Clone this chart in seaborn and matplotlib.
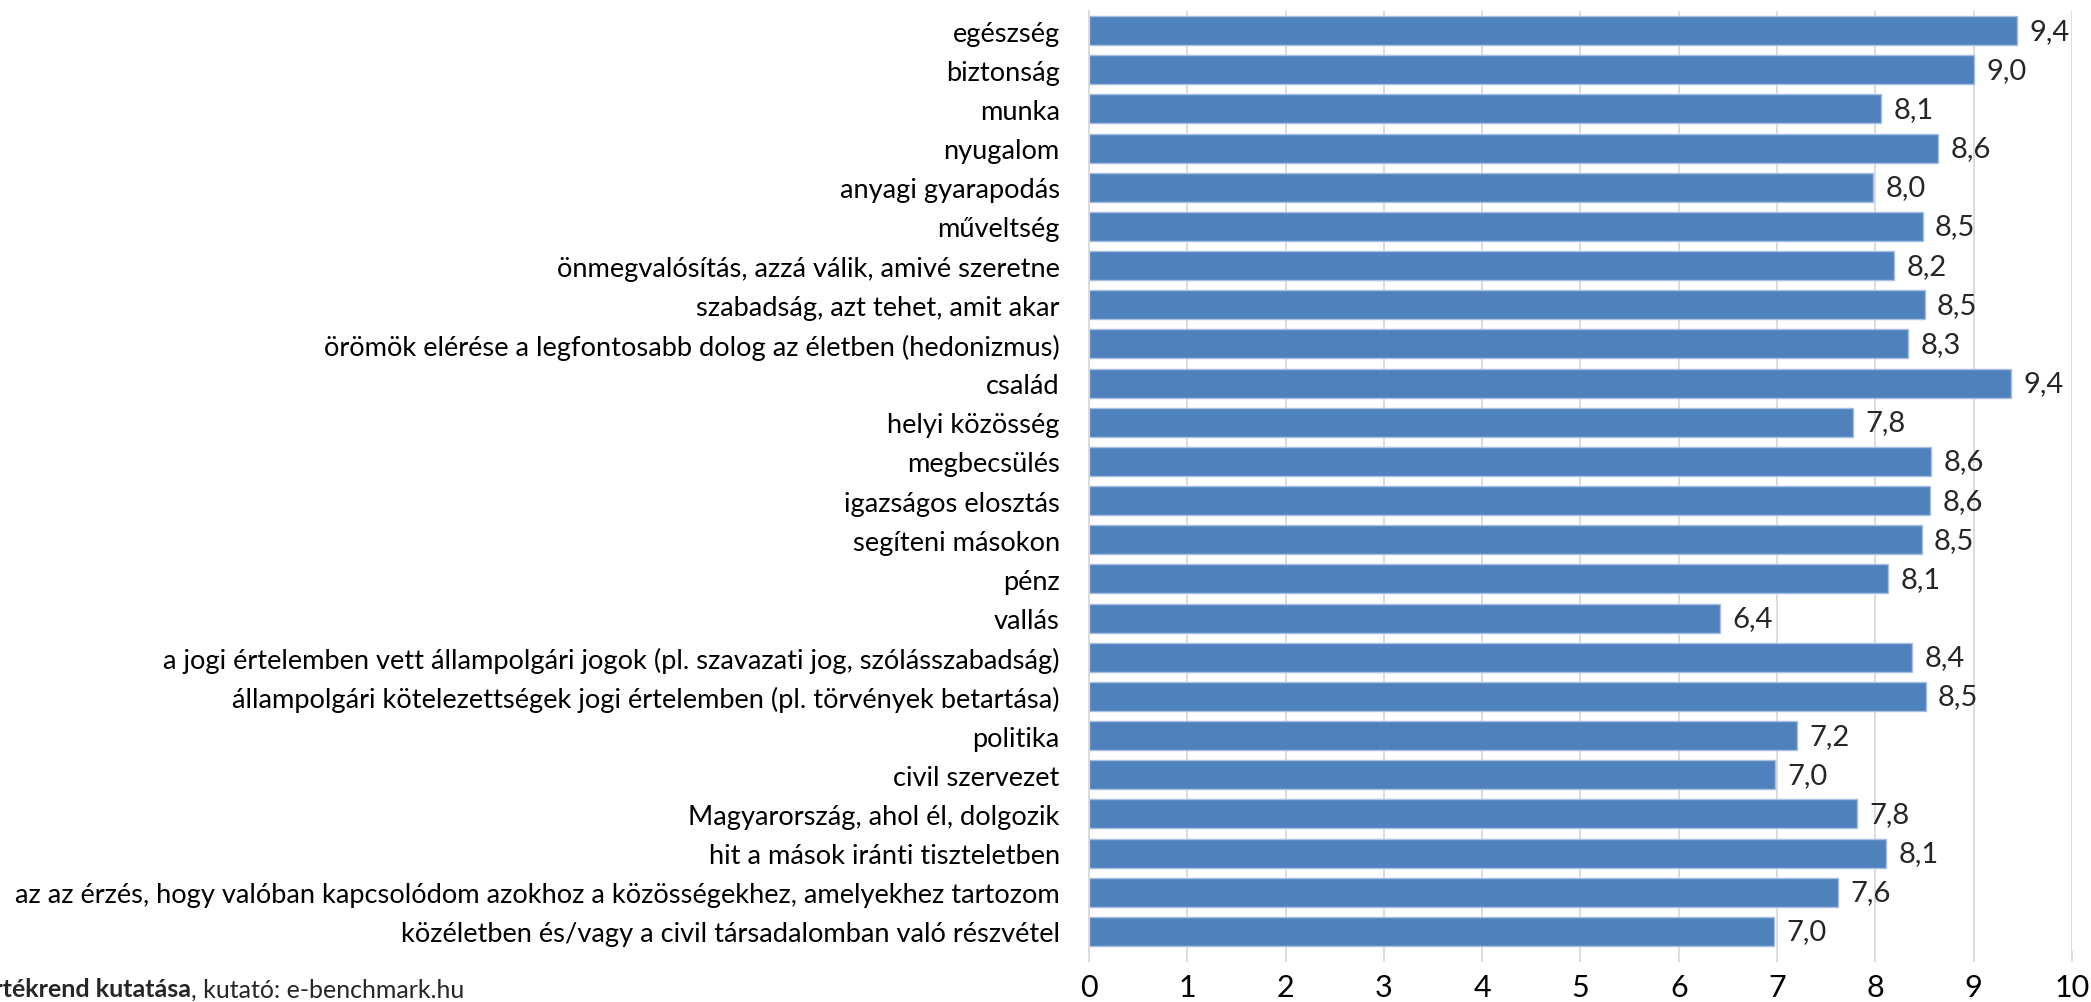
import matplotlib.pyplot as plt
import pandas as pd
import seaborn as sns

# data
categories = [
    "egészség",
    "biztonság",
    "munka",
    "nyugalom",
    "anyagi gyarapodás",
    "műveltség",
    "önmegvalósítás, azzá válik, amivé szeretne",
    "szabadság, azt tehet, amit akar",
    "örömök elérése a legfontosabb dolog az életben (hedonizmus)",
    "család",
    "helyi közösség",
    "megbecsülés",
    "igazságos elosztás",
    "segíteni másokon",
    "pénz",
    "vallás",
    "a jogi értelemben vett állampolgári jogok (pl. szavazati jog, szólásszabadság)",
    "állampolgári kötelezettségek jogi értelemben (pl. törvények betartása)",
    "politika",
    "civil szervezet",
    "Magyarország, ahol él, dolgozik",
    "hit a mások iránti tiszteletben",
    "az az érzés, hogy valóban kapcsolódom azokhoz a közösségekhez, amelyekhez tartozom",
    "közéletben és/vagy a civil társadalomban való részvétel",
]
values = [9.44, 9.00, 8.06, 8.64, 7.98, 8.48, 8.19, 8.50, 8.33, 9.38, 7.77, 8.57,
          8.56, 8.47, 8.13, 6.42, 8.37, 8.51, 7.20, 6.98, 7.81, 8.11, 7.62, 6.97]
x_ticks = [0, 1, 2, 3, 4, 5, 6, 7, 8, 9, 10]

sns.set_theme(style="white")
plt.rcParams['font.family'] = ['Lato', 'DejaVu Sans']

df = pd.DataFrame({'category': categories, 'value': values})

fig, ax = plt.subplots(figsize=(20.91, 10.03), dpi=100)
fig.subplots_adjust(left=0.5208, right=0.9909, bottom=0.0508, top=0.988)

sns.barplot(data=df, y='category', x='value', color='#4F81BD', saturation=1,
            width=0.74, edgecolor='#A7BFDE', linewidth=1, ax=ax)

ax.set_xlim(0, 10)
ax.set_xticks(x_ticks)
ax.set_xlabel('')
ax.set_ylabel('')
ax.grid(axis='x', color='#D9D9D9', lw=1.3)
ax.set_axisbelow(True)
for s in ['top', 'right', 'bottom']:
    ax.spines[s].set_visible(False)
ax.spines['left'].set_color('#D9D9D9')
ax.spines['left'].set_linewidth(1.3)
ax.tick_params(axis='y', length=0, pad=21, labelsize=19.6, labelcolor='black')
ax.tick_params(axis='x', length=8, color='#D9D9D9', width=1.3, pad=8,
               labelsize=22, labelcolor='black', bottom=True)

labels = [f"{v:.1f}".replace('.', ',') for v in values]
ax.bar_label(ax.containers[0], labels=labels, padding=9, fontsize=21)

# footer (cut off at the left edge, as in the original)
fig.text(191 / 2091, 0.013, "Értékrend kutatása", ha='right', va='center',
         fontsize=18, fontweight='bold')
fig.text(191 / 2091, 0.013, ", kutató: e-benchmark.hu", ha='left', va='center',
         fontsize=18)

fig.savefig('out.png', dpi=100)
